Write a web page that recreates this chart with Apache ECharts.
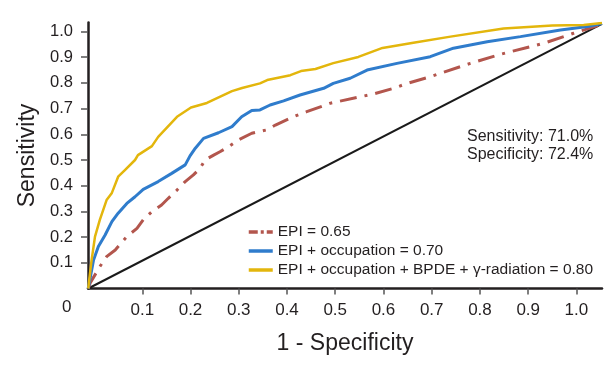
<!DOCTYPE html>
<html>
<head>
<meta charset="utf-8">
<script src="https://cdn.jsdelivr.net/npm/echarts@6/dist/echarts.min.js"></script>
<style>
html,body{margin:0;padding:0;background:#fff;}
#c{width:611px;height:375px;}
</style>
</head>
<body>
<div id="c"></div>
<script>
// ---- data ----
var xTicks = [0.1,0.2,0.3,0.4,0.5,0.6,0.7,0.8,0.9,1.0];
var yTicks = [0.1,0.2,0.3,0.4,0.5,0.6,0.7,0.8,0.9,1.0];
var seriesNames = ['EPI = 0.65','EPI + occupation = 0.70','EPI + occupation + BPDE + \u03b3-radiation = 0.80'];

var epiX = [-0.012,-0.008,0.002,0.012,0.026,0.044,0.068,0.089,0.102,0.120,0.140,0.154,0.172,0.189,0.206,0.220,0.230,0.248,0.261,0.279,0.299,0.327,0.358,0.376,0.413,0.441,0.490,0.552,0.579,0.621,0.649,0.697,0.780,0.842,0.898,0.932,0.994,1.053];
var epiY = [0,0.021,0.053,0.085,0.124,0.150,0.202,0.234,0.267,0.299,0.325,0.351,0.383,0.416,0.442,0.468,0.500,0.519,0.532,0.552,0.578,0.604,0.617,0.636,0.668,0.688,0.721,0.746,0.757,0.779,0.798,0.824,0.876,0.911,0.938,0.954,0.993,1.028];

var occX = [-0.012,-0.008,-0.001,0.009,0.023,0.037,0.050,0.068,0.085,0.102,0.133,0.161,0.189,0.199,0.210,0.227,0.258,0.286,0.306,0.327,0.344,0.365,0.393,0.427,0.476,0.496,0.531,0.566,0.628,0.697,0.745,0.815,0.884,0.967,1.023,1.053];
var occY = [0,0.041,0.111,0.163,0.208,0.260,0.293,0.331,0.357,0.386,0.416,0.448,0.481,0.516,0.546,0.584,0.606,0.630,0.668,0.693,0.695,0.714,0.730,0.753,0.779,0.798,0.818,0.850,0.876,0.902,0.935,0.960,0.980,1.006,1.019,1.031];

var allX = [-0.012,-0.010,-0.005,0.002,0.012,0.026,0.037,0.050,0.064,0.085,0.091,0.120,0.133,0.172,0.201,0.234,0.286,0.307,0.344,0.359,0.407,0.429,0.459,0.496,0.548,0.598,0.662,0.739,0.849,0.950,1.015,1.053];
var allY = [0,0.033,0.111,0.202,0.267,0.344,0.372,0.435,0.461,0.500,0.519,0.554,0.590,0.668,0.704,0.722,0.768,0.780,0.798,0.811,0.830,0.846,0.854,0.877,0.901,0.936,0.956,0.980,1.012,1.023,1.025,1.033];

var refX = [-0.012,1.053];
var refY = [0,1.030];

function zip(a,b){ return a.map(function(v,i){ return [v,b[i]]; }); }

var ink = '#231f20';
var chart = echarts.init(document.getElementById('c'));
chart.setOption({
  animation:false,
  backgroundColor:'#fff',
  grid:{left:88,right:9,top:22.5,bottom:86.5,containLabel:false},
  xAxis:{
    type:'value', min:-0.0125, max:1.053,
    name:'1 - Specificity', nameLocation:'middle', nameGap:44,
    nameTextStyle:{fontFamily:'Liberation Sans',fontSize:23,color:ink},
    axisLine:{show:true,onZero:false,lineStyle:{color:ink,width:2.5}},
    axisTick:{show:true,customValues:xTicks,length:6,lineStyle:{color:'#555',width:1.5}},
    axisLabel:{customValues:xTicks,margin:13,fontFamily:'Liberation Sans',fontSize:17,color:ink,
      formatter:function(v){return v.toFixed(1);}},
    splitLine:{show:false}
  },
  yAxis:{
    type:'value', min:0, max:1.035,
    name:'Sensitivity', nameLocation:'middle', nameGap:44,
    nameTextStyle:{fontFamily:'Liberation Sans',fontSize:23,color:ink},
    axisLine:{show:true,onZero:false,lineStyle:{color:ink,width:2.5}},
    axisTick:{show:true,customValues:yTicks,length:7,lineStyle:{color:'#555',width:1.5}},
    axisLabel:{customValues:yTicks,margin:15,fontFamily:'Liberation Sans',fontSize:16.5,color:ink,
      formatter:function(v){return v.toFixed(1);}},
    splitLine:{show:false}
  },
  legend:{
    orient:'vertical', left:242, top:219, itemWidth:24, itemHeight:14, itemGap:3,
    itemStyle:{opacity:0},
    lineStyle:{width:3.5},
    textStyle:{fontFamily:'Liberation Sans',fontSize:15.5,color:ink},
    data:[
      {name:seriesNames[0],lineStyle:{width:3.5,type:[9,3,3,3]}},
      {name:seriesNames[1]},
      {name:seriesNames[2]}
    ]
  },
  graphic:[
    {type:'text',left:62,top:299,style:{text:'0',font:'17px "Liberation Sans"',fill:ink}},
    {type:'text',left:467,top:128,style:{text:'Sensitivity: 71.0%\nSpecificity: 72.4%',font:'16px "Liberation Sans"',fill:ink,lineHeight:17.5}}
  ],
  series:[
    {name:'ref',type:'line',data:zip(refX,refY),symbol:'none',silent:true,z:1,
      lineStyle:{color:'#1a1a1a',width:2}},
    {name:seriesNames[0],type:'line',data:zip(epiX,epiY),symbol:'none',z:2,
      itemStyle:{color:'#b3564d'},lineStyle:{color:'#b3564d',width:3,type:[17,8,3,8]}},
    {name:seriesNames[1],type:'line',data:zip(occX,occY),symbol:'none',z:3,
      itemStyle:{color:'#2f7ccc'},lineStyle:{color:'#2f7ccc',width:3}},
    {name:seriesNames[2],type:'line',data:zip(allX,allY),symbol:'none',z:4,
      itemStyle:{color:'#e3b60c'},lineStyle:{color:'#e3b60c',width:2.5}}
  ]
});
</script>
</body>
</html>
